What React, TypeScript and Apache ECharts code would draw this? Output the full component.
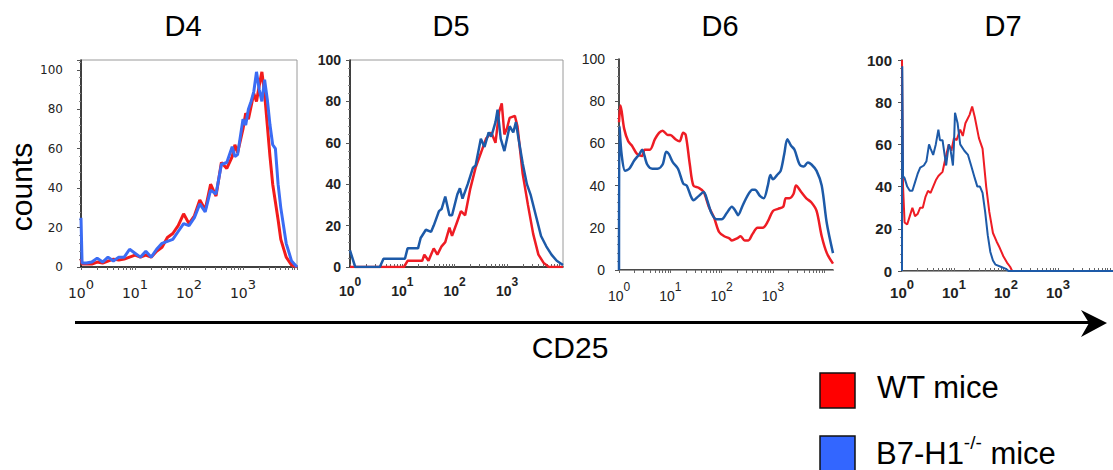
import React, { useEffect, useRef } from 'react';
import * as echarts from 'echarts';

// Panels (days) and series names
const panelTitles = ['D4', 'D5', 'D6', 'D7'];
const seriesNames = ['WT mice', 'B7-H1-/- mice'];
const yTicks = [0, 20, 40, 60, 80, 100];
const decadeLabels = [0, 1, 2, 3]; // exponents shown as 10^n

// Data: [log10(CD25), counts]
const d4Wt = [[0,4],[0.02,1.5],[0.1,1.5],[0.2,1.5],[0.3,2.5],[0.4,2],[0.5,3],[0.6,4],[0.7,3.5],[0.8,4],[0.9,5],[1.0,6],[1.1,5],[1.2,6],[1.3,5],[1.4,8],[1.5,10],[1.6,15],[1.7,17],[1.8,21],[1.9,27],[2.0,22],[2.1,26],[2.2,34],[2.3,29],[2.4,42],[2.5,36],[2.6,53],[2.7,50],[2.8,56],[2.85,62],[2.9,58],[3.0,70],[3.05,78],[3.1,75],[3.2,88],[3.25,84],[3.3,92],[3.35,99],[3.4,88],[3.45,72],[3.5,56],[3.55,42],[3.6,33],[3.65,24],[3.7,14],[3.8,5],[3.9,1],[4.0,0]];
const d4Ko = [[0,25],[0.02,2],[0.1,2],[0.2,2.5],[0.3,4.5],[0.4,2.5],[0.5,5],[0.6,3],[0.7,5],[0.8,5],[0.9,9],[1.0,7],[1.1,5],[1.2,8],[1.3,5],[1.4,9],[1.5,12],[1.6,13],[1.7,14],[1.8,18],[1.9,22],[2.0,21],[2.1,25],[2.2,32],[2.3,28],[2.4,39],[2.5,37],[2.6,52],[2.7,53],[2.8,61],[2.85,56],[2.9,57],[3.0,75],[3.05,72],[3.1,80],[3.15,84],[3.2,89],[3.25,99],[3.3,90],[3.35,84],[3.4,95],[3.45,85],[3.5,72],[3.55,62],[3.6,60],[3.65,42],[3.7,30],[3.8,12],[3.9,3],[4.0,0]];

const d5Wt = [[0,0],[1.03,0],[1.1,3],[1.38,3],[1.42,6],[1.5,3],[1.55,6],[1.6,9],[1.67,6],[1.75,10],[1.82,12],[1.9,19],[1.95,15],[2.05,22],[2.12,27],[2.2,25],[2.3,38],[2.4,48],[2.5,55],[2.6,62],[2.7,65],[2.78,60],[2.85,75],[2.9,79],[2.95,64],[3.0,67],[3.05,72],[3.15,73],[3.2,68],[3.3,45],[3.4,30],[3.5,16],[3.6,6],[3.7,2],[3.8,0],[4.07,0]];
const d5Ko = [[0,8],[0.1,0],[0.57,0],[0.64,4],[1.05,4],[1.1,9],[1.3,9],[1.35,14],[1.45,18],[1.55,17],[1.6,20],[1.7,27],[1.75,28],[1.82,34],[1.9,25],[1.95,25],[2.05,35],[2.1,38],[2.15,33],[2.25,40],[2.35,48],[2.4,49],[2.5,62],[2.57,58],[2.65,65],[2.7,63],[2.78,70],[2.82,76],[2.88,62],[2.95,56],[3.0,62],[3.05,68],[3.12,65],[3.17,70],[3.22,62],[3.3,50],[3.38,40],[3.45,35],[3.55,25],[3.65,15],[3.75,10],[3.85,6],[3.95,3],[4.07,1]];

const d6Wt = [[0,70],[0.03,78],[0.1,67],[0.18,61],[0.25,59],[0.35,55],[0.45,54],[0.5,57],[0.6,57],[0.7,62],[0.78,65],[0.85,66],[0.95,64],[1.0,64],[1.1,62],[1.18,61],[1.25,65],[1.3,64],[1.38,50],[1.45,40],[1.55,39],[1.65,37],[1.75,30],[1.85,25],[1.95,18],[2.05,16],[2.15,15],[2.2,14],[2.3,15],[2.37,16],[2.45,14],[2.52,14],[2.6,17],[2.7,20],[2.8,20],[2.9,23],[3.0,28],[3.1,29],[3.2,30],[3.25,34],[3.32,34],[3.4,36],[3.45,40],[3.55,37],[3.65,34],[3.75,32],[3.85,28],[3.95,16],[4.05,8],[4.17,3]];
const d6Ko = [[0,0],[0.01,68],[0.05,55],[0.12,47],[0.2,48],[0.3,52],[0.4,55],[0.45,57],[0.55,50],[0.65,48],[0.75,48],[0.85,50],[0.92,56],[0.97,55],[1.05,51],[1.15,48],[1.25,41],[1.32,40],[1.4,35],[1.45,33],[1.55,35],[1.65,37],[1.72,33],[1.8,27],[1.9,24],[2.0,24],[2.1,27],[2.2,30],[2.27,28],[2.32,26],[2.4,30],[2.5,35],[2.6,38],[2.65,38],[2.75,35],[2.82,34],[2.9,40],[2.95,45],[3.0,43],[3.08,45],[3.15,47],[3.22,55],[3.28,62],[3.35,59],[3.42,57],[3.52,50],[3.6,49],[3.68,51],[3.75,50],[3.85,47],[3.95,40],[4.05,22],[4.17,8]];

const d7Wt = [[0,100],[0.02,40],[0.05,23],[0.1,22],[0.15,26],[0.2,30],[0.25,26],[0.3,27],[0.35,30],[0.4,30],[0.45,35],[0.5,38],[0.55,37],[0.6,40],[0.65,43],[0.7,45],[0.78,47],[0.85,55],[0.9,60],[0.95,57],[1.0,63],[1.05,62],[1.12,67],[1.17,64],[1.22,70],[1.3,74],[1.35,78],[1.4,73],[1.48,63],[1.55,58],[1.62,40],[1.68,28],[1.75,18],[1.82,14],[1.88,11],[1.95,7],[2.02,4],[2.08,2],[2.12,0],[4.06,0]];
const d7Ko = [[0,0],[0.005,97],[0.02,45],[0.05,44],[0.1,40],[0.15,38],[0.2,38],[0.25,42],[0.3,46],[0.35,49],[0.42,50],[0.47,52],[0.52,60],[0.55,58],[0.6,55],[0.65,60],[0.7,67],[0.73,62],[0.78,62],[0.82,55],[0.85,50],[0.9,60],[0.93,58],[0.98,50],[1.0,60],[1.02,75],[1.07,70],[1.12,60],[1.2,57],[1.27,55],[1.33,50],[1.4,44],[1.45,40],[1.5,40],[1.55,37],[1.6,28],[1.65,17],[1.7,9],[1.75,5],[1.8,3],[1.9,2],[2.0,1],[2.05,0],[4.06,0]];

const wtData = [d4Wt, d5Wt, d6Wt, d7Wt];
const koData = [d4Ko, d5Ko, d6Ko, d7Ko];

// Layout / style per panel
const panels = [
  { left: 81, top: 60, width: 216, height: 207, xMax: 4.0, yMax: 105, red: '#f21b1b', blue: '#3b6cf4', lw: 3, smooth: false, font: 'DejaVu Sans', bold: false, ySize: 12, xSize: 14, supSize: 13, yMargin: 18, xMargin: 11, tickInside: false, border: true, titleX: 183 },
  { left: 350, top: 60, width: 213, height: 207, xMax: 4.07, yMax: 100, red: '#ee1c24', blue: '#1d5aa8', lw: 2.5, smooth: false, font: 'Liberation Sans', bold: true, ySize: 14, xSize: 14, supSize: 12, yMargin: 9, xMargin: 9, tickInside: true, border: true, titleX: 451 },
  { left: 619, top: 59, width: 214, height: 211, xMax: 4.17, yMax: 100, red: '#ee1c24', blue: '#1d5aa8', lw: 2.5, smooth: 0.3, font: 'Liberation Sans', bold: false, ySize: 14, xSize: 14, supSize: 12, yMargin: 14, xMargin: 11, tickInside: false, border: false, titleX: 720 },
  { left: 902, top: 60, width: 211, height: 211, xMax: 4.06, yMax: 100, red: '#ee1c24', blue: '#1d5aa8', lw: 2, smooth: false, font: 'Liberation Sans', bold: true, ySize: 15, xSize: 15, supSize: 13, yMargin: 10, xMargin: 7, tickInside: true, border: false, titleX: 1003 },
];

const minorTickValues = (xMax: number) => {
  const out: number[] = [];
  for (let n = 0; n < 5; n++) {
    for (let k = 1; k <= 9; k++) {
      const v = n + Math.log10(k);
      if (v <= xMax + 1e-9) out.push(v);
    }
  }
  return out;
};

export default function App() {
  const ref = useRef<HTMLDivElement>(null);
  useEffect(() => {
    if (!ref.current) return;
    const chart = echarts.init(ref.current, null, { renderer: 'svg' });

    const grid: any[] = [];
    const xAxis: any[] = [];
    const yAxis: any[] = [];
    const series: any[] = [];

    panels.forEach((p, i) => {
      grid.push({
        left: p.left, top: p.top, width: p.width, height: p.height,
        show: p.border, borderColor: '#9a9a9a', borderWidth: 1, backgroundColor: 'transparent',
      });
      xAxis.push({
        gridIndex: i, type: 'value', min: 0, max: p.xMax,
        axisLine: { show: true, onZero: false, lineStyle: { color: '#111', width: 1.5 } },
        axisTick: { show: true, customValues: minorTickValues(p.xMax), length: 3, inside: p.tickInside, lineStyle: { color: '#666', width: 1 } },
        axisLabel: {
          customValues: decadeLabels,
          margin: p.xMargin,
          formatter: (v: number) => `{b|10}{s|${Math.round(v)}}`,
          rich: {
            b: { fontFamily: p.font, fontSize: p.xSize, fontWeight: p.bold ? 'bold' : 'normal', color: '#222', lineHeight: 22, verticalAlign: 'bottom' },
            s: { fontFamily: p.font, fontSize: p.supSize, fontWeight: p.bold ? 'bold' : 'normal', color: '#222', lineHeight: 22, verticalAlign: 'top' },
          },
        },
        splitLine: { show: false },
      });
      yAxis.push({
        gridIndex: i, type: 'value', min: 0, max: p.yMax, interval: 20,
        axisLine: { show: true, lineStyle: { color: '#111', width: 1.5 } },
        axisTick: { show: true, length: 4, inside: false, lineStyle: { color: '#555' } },
        minorTick: { show: true, splitNumber: 5, length: 2, lineStyle: { color: '#888' } },
        axisLabel: {
          customValues: yTicks,
          margin: p.yMargin,
          fontFamily: p.font, fontSize: p.ySize, fontWeight: p.bold ? 'bold' : 'normal', color: '#222',
        },
        splitLine: { show: false },
      });
      series.push({
        name: seriesNames[0], type: 'line', xAxisIndex: i, yAxisIndex: i,
        data: wtData[i], showSymbol: false, symbol: 'none', smooth: p.smooth,
        lineStyle: { color: p.red, width: p.lw }, z: 2,
      });
      series.push({
        name: seriesNames[1], type: 'line', xAxisIndex: i, yAxisIndex: i,
        data: koData[i], showSymbol: false, symbol: 'none', smooth: p.smooth,
        lineStyle: { color: p.blue, width: p.lw }, z: 3,
      });
    });

    // top frame lines for panels without full border
    panels.forEach((p, i) => {
      if (!p.border) {
        xAxis.push({
          gridIndex: i, type: 'value', min: 0, max: p.xMax, position: 'top',
          axisLine: { show: true, lineStyle: { color: '#9a9a9a', width: 1 } },
          axisTick: { show: false }, axisLabel: { show: false }, splitLine: { show: false },
        });
      }
    });

    const bigFont = 'Liberation Sans';
    const graphic: any[] = [];
    panels.forEach((p, i) => {
      graphic.push({
        type: 'text', x: p.titleX, y: 26,
        style: { text: panelTitles[i], fontFamily: bigFont, fontSize: 29, fill: '#000', align: 'center', verticalAlign: 'middle' },
      });
    });
    graphic.push({
      type: 'text', x: 21, y: 187, rotation: Math.PI / 2,
      style: { text: 'counts', fontFamily: bigFont, fontSize: 30, fill: '#000', align: 'center', verticalAlign: 'middle' },
    });
    graphic.push({ type: 'line', shape: { x1: 75, y1: 322.5, x2: 1090, y2: 322.5 }, style: { stroke: '#000', lineWidth: 3 } });
    graphic.push({ type: 'polygon', shape: { points: [[1107, 323], [1081, 310], [1089, 323], [1081, 337]] }, style: { fill: '#000' } });
    graphic.push({
      type: 'text', x: 570, y: 347,
      style: { text: 'CD25', fontFamily: bigFont, fontSize: 30, fill: '#000', align: 'center', verticalAlign: 'middle' },
    });
    // legend
    graphic.push({ type: 'rect', shape: { x: 820, y: 373, width: 35, height: 35 }, style: { fill: '#ff0000', stroke: '#111', lineWidth: 1.5 } });
    graphic.push({ type: 'rect', shape: { x: 820, y: 436, width: 35, height: 35 }, style: { fill: '#3366ff', stroke: '#111', lineWidth: 1.5 } });
    graphic.push({
      type: 'text', x: 877, y: 387,
      style: { text: seriesNames[0], fontFamily: bigFont, fontSize: 31, fill: '#000', align: 'left', verticalAlign: 'middle' },
    });
    graphic.push({
      type: 'text', x: 876, y: 451,
      style: {
        text: '{a|B7-H1}{s|-/-}{a| mice}',
        align: 'left', verticalAlign: 'middle',
        rich: {
          a: { fontFamily: bigFont, fontSize: 31, fill: '#000', color: '#000', lineHeight: 36, verticalAlign: 'bottom' },
          s: { fontFamily: bigFont, fontSize: 19, fill: '#000', color: '#000', lineHeight: 36, verticalAlign: 'top' },
        },
      },
    });

    chart.setOption({
      animation: false,
      backgroundColor: '#ffffff',
      grid, xAxis, yAxis, series, graphic,
    });
    return () => chart.dispose();
  }, []);

  return <div ref={ref} style={{ position: 'fixed', left: 0, top: 0, width: 1113, height: 470 }} />;
}
